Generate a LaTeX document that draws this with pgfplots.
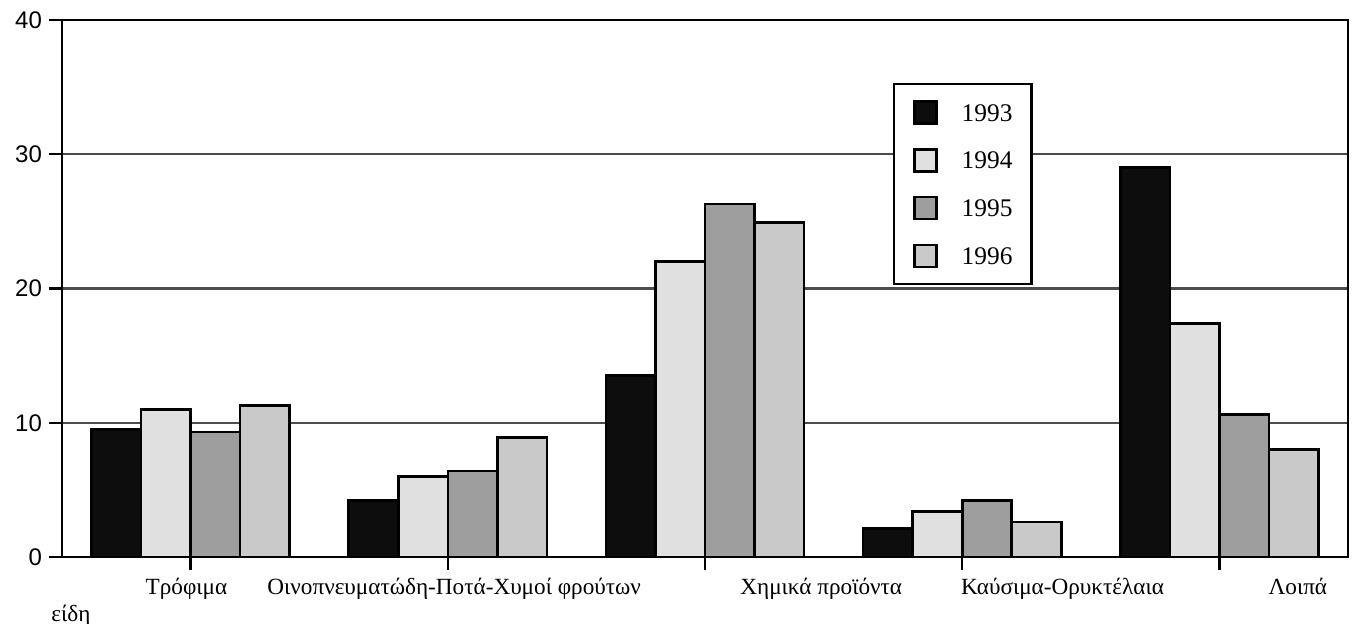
\documentclass[border=0pt]{standalone}
\usepackage{fontspec}
\setmainfont{Liberation Serif}
\newfontfamily\ticksfont{Liberation Sans}
\usepackage{pgfplots}
\pgfplotsset{compat=1.18}

\definecolor{c93}{gray}{0.05}
\definecolor{c94}{gray}{0.88}
\definecolor{c95}{gray}{0.62}
\definecolor{c96}{gray}{0.79}

\begin{document}
\begin{tikzpicture}
\begin{axis}[
  scale only axis, width=643pt, height=268.5pt,
  xmin=-0.5, xmax=4.5, ymin=0, ymax=40,
  ytick={0,10,20,30,40},
  xtick pos=bottom, ytick pos=left,
  ymajorgrids, grid style={black!70, line width=1.1pt},
  axis line style={line width=1.3pt},
  tick align=outside, major tick length=6.5pt,
  tick style={black, line width=1.1pt},
  xtick={0,1,2,3,4}, xticklabels={,,,,},
  extra x ticks={-0.016,1.025,2.452,3.39,4.305},
  extra x tick labels={Τρόφιμα, Οινοπνευματώδη-Ποτά-Χυμοί φρούτων, Χημικά προϊόντα, Καύσιμα-Ορυκτέλαια, Λοιπά},
  extra x tick style={major tick length=0pt, xticklabel style={yshift=-7pt, font=\fontsize{11.6}{13}\selectfont}},
  yticklabel style={font=\ticksfont\fontsize{12}{14}\selectfont},
  /pgf/number format/assume math mode=true,
  ybar, bar width=0.1925,
  legend cell align=left,
  legend style={at={(0.646,0.883)}, anchor=north west, draw=black, line width=1.3pt,
    inner xsep=9.5pt, inner ysep=8pt, row sep=11.6pt,
    nodes={inner sep=0pt, text height=8.6pt, text depth=0pt, font=\fontsize{12.7}{14}\selectfont},
    /tikz/every odd column/.style={column sep=12pt}},
  legend image code/.code={\draw[#1] (0pt,-5.5pt) rectangle (11pt,5.5pt);},
]
\coordinate (sw) at (rel axis cs:0,0);
\addplot[draw=black, fill=c93, line width=1.3pt, bar shift=-0.28875]
  coordinates {(0,9.5) (1,4.2) (2,13.5) (3,2.1) (4,29.0)};
\addplot[draw=black, fill=c94, line width=1.3pt, bar shift=-0.09625]
  coordinates {(0,11.0) (1,6.0) (2,22.0) (3,3.4) (4,17.4)};
\addplot[draw=black, fill=c95, line width=1.3pt, bar shift=0.09625]
  coordinates {(0,9.3) (1,6.4) (2,26.3) (3,4.2) (4,10.6)};
\addplot[draw=black, fill=c96, line width=1.3pt, bar shift=0.28875]
  coordinates {(0,11.3) (1,8.9) (2,24.9) (3,2.6) (4,8.0)};
\legend{1993,1994,1995,1996}
\end{axis}
\node[font=\fontsize{11.6}{13}\selectfont] at ([xshift=4.5pt,yshift=-29.5pt]sw) {είδη};
\pgfresetboundingbox
\path[use as bounding box] (sw) ++(-31pt,-33.5pt) rectangle ++(677pt,312pt);
\end{tikzpicture}
\end{document}
